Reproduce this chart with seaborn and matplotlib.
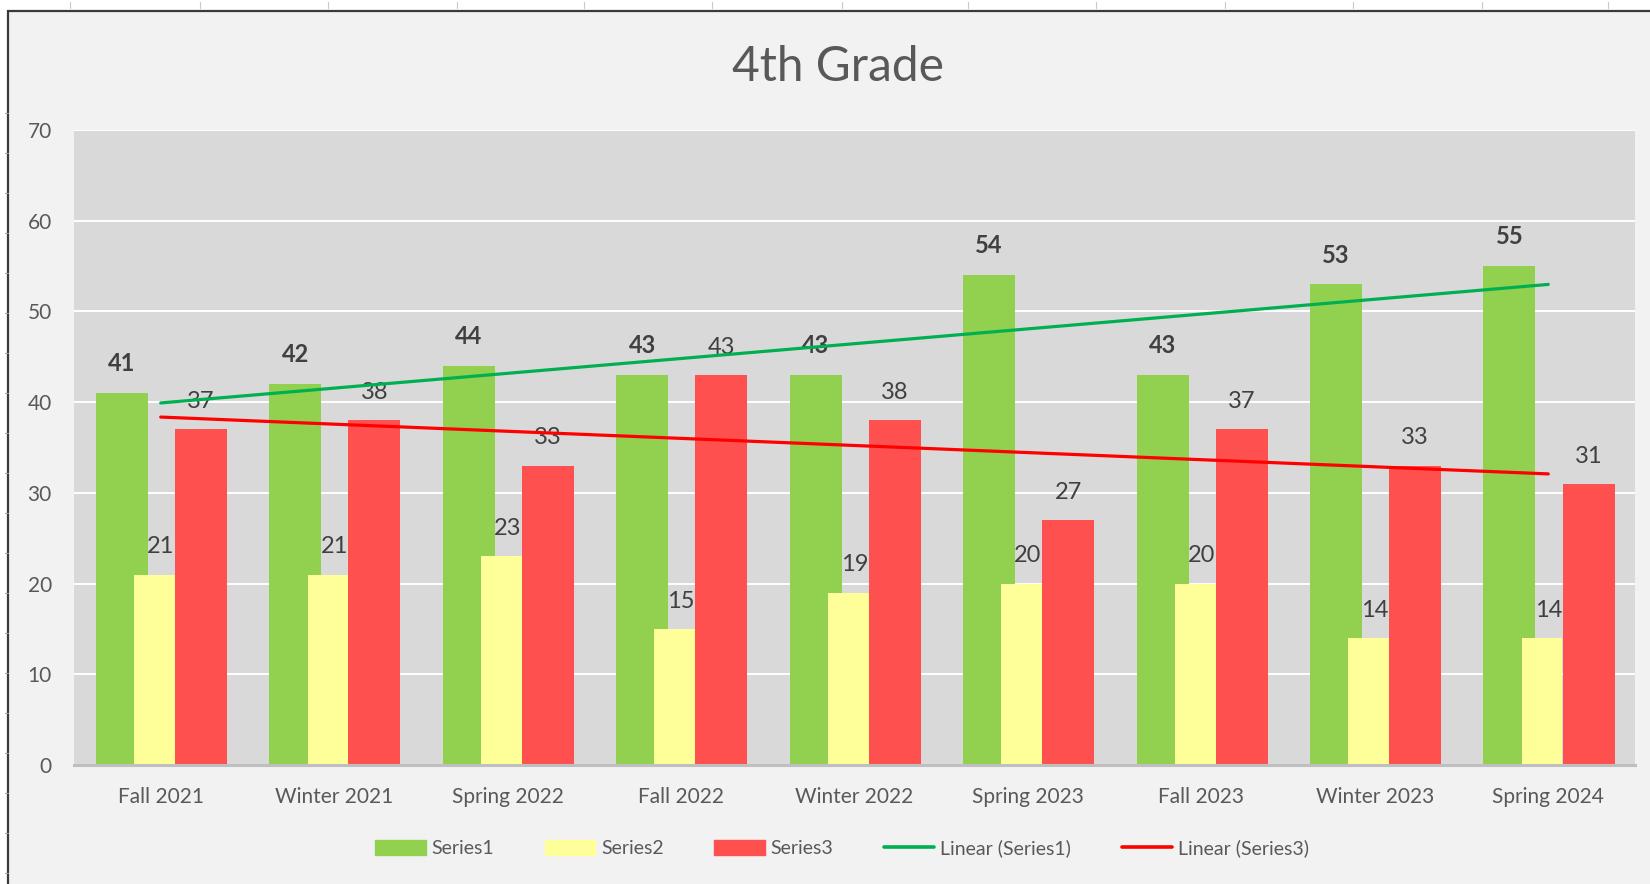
import numpy as np
import matplotlib
matplotlib.use("Agg")
import matplotlib.pyplot as plt
from matplotlib.patches import Rectangle, Patch
from matplotlib.lines import Line2D
import seaborn as sns

terms = ["Fall 2021", "Winter 2021", "Spring 2022", "Fall 2022", "Winter 2022",
         "Spring 2023", "Fall 2023", "Winter 2023", "Spring 2024"]
series1 = [41, 42, 44, 43, 43, 54, 43, 53, 55]
series2 = [21, 21, 23, 15, 19, 20, 20, 14, 14]
series3 = [37, 38, 33, 43, 38, 27, 37, 33, 31]
y_ticks = [0, 10, 20, 30, 40, 50, 60, 70]

GREEN = "#92D050"
YELLOW = "#FFFF99"
RED = "#FF5050"
TREND_GREEN = "#00B050"
TREND_RED = "#FF0000"
TEXT = "#595959"
LABEL = "#404040"

sns.set_theme(style="white")
plt.rcParams["font.family"] = ["Lato", "DejaVu Sans"]

W, H = 1650, 884
fig = plt.figure(figsize=(W / 100, H / 100), dpi=100)
fig.patch.set_facecolor("white")

# chart frame (spreadsheet look: white strip on top / left)
frame = Rectangle((8 / W, -0.1), 1.2, 1 - 11 / H + 0.1, transform=fig.transFigure,
                  facecolor="#F2F2F2", edgecolor="#3A3A3A", lw=1.6, zorder=-10)
fig.add_artist(frame)
for px in [70, 200, 328, 457, 584, 712, 842, 968, 1096, 1225, 1353, 1482, 1608]:
    fig.add_artist(Line2D([px / W, px / W], [1 - 8 / H, 1 - 2 / H], transform=fig.transFigure,
                          color="#C8C8C8", lw=0.8, zorder=-5))
for py in np.arange(113, 884, 40):
    fig.add_artist(Line2D([5 / W, 8 / W], [1 - py / H, 1 - py / H], transform=fig.transFigure,
                          color="#9A9A9A", lw=0.8, zorder=-5))

ax = fig.add_axes([74 / W, 1 - 765 / H, (1635 - 74) / W, (765 - 130) / H], zorder=1)
ax.set_facecolor("#D9D9D9")

idx = np.arange(len(terms))
bar_specs = [
    (series1, -0.224, 0.30, GREEN),
    (series2, -0.036, 0.235, YELLOW),
    (series3, 0.232, 0.30, RED),
]
for vals, off, width, col in bar_specs:
    sns.barplot(x=idx + off, y=vals, native_scale=True, width=width, color=col,
                saturation=1, errorbar=None, linewidth=0, ax=ax, zorder=2)

# linear trend lines
sns.regplot(x=idx, y=np.array(series1), scatter=False, ci=None, truncate=True,
            line_kws=dict(color=TREND_GREEN, lw=2.3, zorder=4), ax=ax)
sns.regplot(x=idx, y=np.array(series3), scatter=False, ci=None, truncate=True,
            line_kws=dict(color=TREND_RED, lw=2.3, zorder=4), ax=ax)

# data labels
for i in idx:
    ax.annotate(str(series1[i]), (i - 0.224, series1[i]), xytext=(0, 21), textcoords="offset points",
                ha="center", va="center", fontsize=17, fontweight="bold", color=LABEL, zorder=3)
    ax.annotate(str(series2[i]), (i, series2[i]), xytext=(0, 20), textcoords="offset points",
                ha="center", va="center", fontsize=17, color=LABEL, zorder=3)
    ax.annotate(str(series3[i]), (i + 0.232, series3[i]), xytext=(0, 20), textcoords="offset points",
                ha="center", va="center", fontsize=17, color=LABEL, zorder=3)

ax.set_xlim(-0.5, len(terms) - 0.5)
ax.set_ylim(0, 70)
ax.set_xticks(idx)
ax.set_xticklabels(terms)
ax.set_yticks(y_ticks)
ax.tick_params(axis="both", length=0, labelsize=15, labelcolor=TEXT)
ax.tick_params(axis="x", pad=16)
ax.tick_params(axis="y", pad=16)
ax.set_xlabel("")
ax.set_ylabel("")
ax.yaxis.grid(True, color="white", lw=1.4, zorder=0)
ax.set_axisbelow(True)
for side in ["top", "right", "left"]:
    ax.spines[side].set_visible(False)
ax.spines["bottom"].set_color("#BFBFBF")
ax.spines["bottom"].set_linewidth(2.2)

fig.text(838 / W, 1 - 67 / H, "4th Grade", ha="center", va="center",
         fontsize=34.5, color=TEXT)

handles = [
    Patch(facecolor=GREEN, edgecolor=GREEN, label="Series1"),
    Patch(facecolor=YELLOW, edgecolor=YELLOW, label="Series2"),
    Patch(facecolor=RED, edgecolor=RED, label="Series3"),
    Line2D([0], [0], color=TREND_GREEN, lw=2.6, label="Linear (Series1)"),
    Line2D([0], [0], color=TREND_RED, lw=2.6, label="Linear (Series3)"),
]
leg = fig.legend(handles=handles, loc="center", bbox_to_anchor=(842 / W, 1 - 848 / H), ncol=5,
                 frameon=False, fontsize=14, handlelength=2.6, handleheight=0.8,
                 handletextpad=0.3, columnspacing=2.6)
for t in leg.get_texts():
    t.set_color(TEXT)

fig.savefig("out.png", dpi=100, facecolor=fig.get_facecolor())
